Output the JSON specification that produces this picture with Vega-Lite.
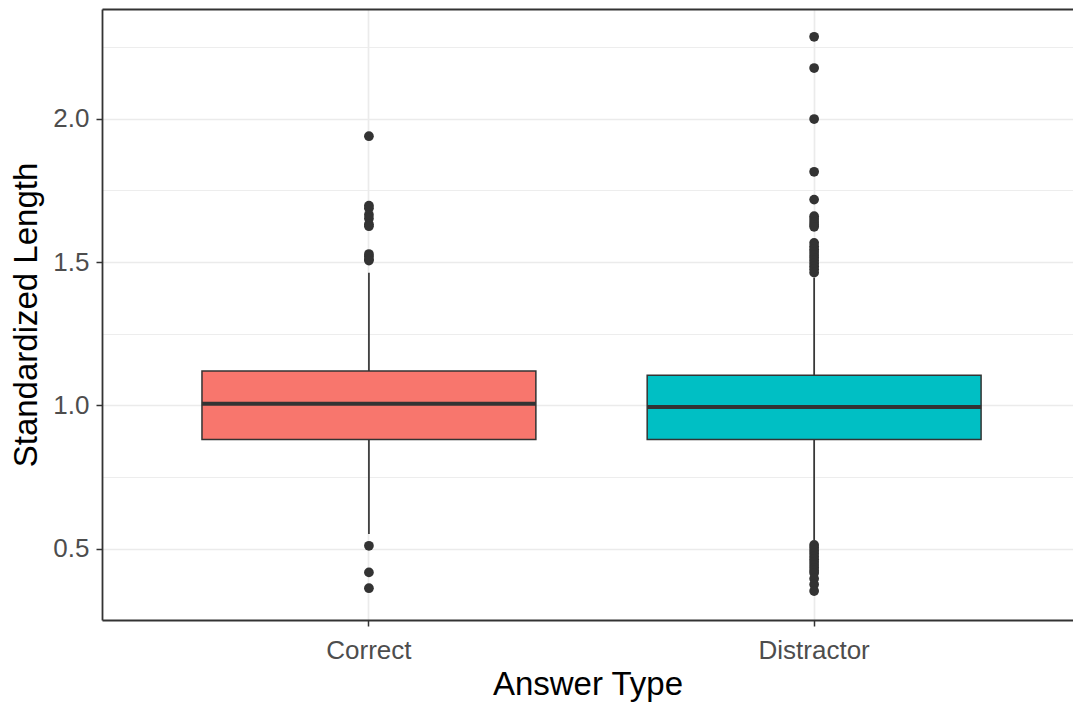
{
  "$schema": "https://vega.github.io/schema/vega-lite/v6.json",
  "autosize": {"type": "none"},
  "padding": {"left": 102, "top": 9, "right": 0, "bottom": 85},
  "width": 971,
  "height": 611,
  "background": "white",
  "config": {
    "view": {"stroke": null},
    "font": "Liberation Sans",
    "axis": {
      "labelFont": "Liberation Sans",
      "titleFont": "Liberation Sans",
      "labelColor": "#4D4D4D",
      "titleColor": "#000000",
      "titleFontWeight": "normal",
      "domainColor": "#333333",
      "tickColor": "#333333",
      "gridColor": "#EBEBEB"
    }
  },
  "datasets": {
    "stats": [
      {"type": "Correct", "lower": 0.551, "q1": 0.881, "median": 1.006, "q3": 1.120, "upper": 1.463},
      {"type": "Distractor", "lower": 0.530, "q1": 0.881, "median": 0.994, "q3": 1.105, "upper": 1.445}
    ],
    "outliers": [
      {"type": "Correct", "value": 1.939},
      {"type": "Correct", "value": 1.697},
      {"type": "Correct", "value": 1.688},
      {"type": "Correct", "value": 1.665},
      {"type": "Correct", "value": 1.652},
      {"type": "Correct", "value": 1.632},
      {"type": "Correct", "value": 1.625},
      {"type": "Correct", "value": 1.528},
      {"type": "Correct", "value": 1.52},
      {"type": "Correct", "value": 1.51},
      {"type": "Correct", "value": 1.505},
      {"type": "Correct", "value": 0.51},
      {"type": "Correct", "value": 0.417},
      {"type": "Correct", "value": 0.362},
      {"type": "Distractor", "value": 2.286},
      {"type": "Distractor", "value": 2.177},
      {"type": "Distractor", "value": 1.999},
      {"type": "Distractor", "value": 1.815},
      {"type": "Distractor", "value": 1.718},
      {"type": "Distractor", "value": 1.66},
      {"type": "Distractor", "value": 1.65},
      {"type": "Distractor", "value": 1.64},
      {"type": "Distractor", "value": 1.63},
      {"type": "Distractor", "value": 1.623},
      {"type": "Distractor", "value": 1.567},
      {"type": "Distractor", "value": 1.555},
      {"type": "Distractor", "value": 1.545},
      {"type": "Distractor", "value": 1.535},
      {"type": "Distractor", "value": 1.525},
      {"type": "Distractor", "value": 1.515},
      {"type": "Distractor", "value": 1.505},
      {"type": "Distractor", "value": 1.495},
      {"type": "Distractor", "value": 1.485},
      {"type": "Distractor", "value": 1.475},
      {"type": "Distractor", "value": 1.463},
      {"type": "Distractor", "value": 0.513},
      {"type": "Distractor", "value": 0.503},
      {"type": "Distractor", "value": 0.493},
      {"type": "Distractor", "value": 0.483},
      {"type": "Distractor", "value": 0.473},
      {"type": "Distractor", "value": 0.463},
      {"type": "Distractor", "value": 0.453},
      {"type": "Distractor", "value": 0.443},
      {"type": "Distractor", "value": 0.433},
      {"type": "Distractor", "value": 0.423},
      {"type": "Distractor", "value": 0.415},
      {"type": "Distractor", "value": 0.395},
      {"type": "Distractor", "value": 0.375},
      {"type": "Distractor", "value": 0.352}
    ]
  },
  "resolve": {"axis": {"x": "independent", "y": "independent"}},
  "layer": [
    {
      "data": {"name": "stats"},
      "mark": {"type": "rule", "color": "#333333", "strokeWidth": 1.7},
      "encoding": {
        "x": {
          "field": "type", "type": "nominal",
          "scale": {"type": "band", "domain": ["Correct", "Distractor"], "paddingInner": 0.25, "paddingOuter": 0.2155, "align": 0.521},
          "axis": {"orient": "top", "labels": false, "ticks": false, "grid": false, "title": null, "domain": true, "domainWidth": 1.8}
        },
        "y": {
          "field": "lower", "type": "quantitative",
          "scale": {"domain": [0.251, 2.383], "nice": false, "zero": false},
          "axis": {"orient": "right", "values": [0.75, 1.25, 1.75, 2.25], "labels": false, "ticks": false, "domain": false, "grid": true, "gridWidth": 0.9, "title": null}
        },
        "y2": {"field": "upper"}
      }
    },
    {
      "data": {"name": "stats"},
      "mark": {"type": "bar", "stroke": "#333333", "strokeWidth": 1.5},
      "encoding": {
        "x": {
          "field": "type", "type": "nominal",
          "axis": {"orient": "bottom", "title": "Answer Type", "titleFontSize": 33, "titlePadding": 5, "labelFontSize": 26, "labelPadding": 11, "labelAngle": 0, "tickSize": 6, "tickWidth": 1.5, "bandPosition": 0.5, "grid": true, "gridWidth": 1.7, "domainWidth": 1.8}
        },
        "y": {
          "field": "q1", "type": "quantitative",
          "axis": {"orient": "left", "values": [0.5, 1.0, 1.5, 2.0], "format": ".1f", "title": "Standardized Length", "titleFontSize": 33, "titlePadding": 9, "labelFontSize": 26, "labelPadding": 7, "tickSize": 6, "tickWidth": 1.5, "grid": true, "gridWidth": 1.7, "domainWidth": 1.8}
        },
        "y2": {"field": "q3"},
        "color": {
          "field": "type", "type": "nominal",
          "scale": {"domain": ["Correct", "Distractor"], "range": ["#F8766D", "#00BFC4"]},
          "legend": null
        }
      }
    },
    {
      "data": {"name": "stats"},
      "mark": {"type": "tick", "orient": "horizontal", "size": 334, "thickness": 4, "color": "#333333", "opacity": 1},
      "encoding": {
        "x": {"field": "type", "type": "nominal", "axis": null},
        "y": {"field": "median", "type": "quantitative", "axis": null}
      }
    },
    {
      "data": {"name": "outliers"},
      "mark": {"type": "circle", "size": 95, "opacity": 1, "color": "#333333"},
      "encoding": {
        "x": {"field": "type", "type": "nominal", "axis": null},
        "y": {"field": "value", "type": "quantitative", "axis": null}
      }
    }
  ]
}
